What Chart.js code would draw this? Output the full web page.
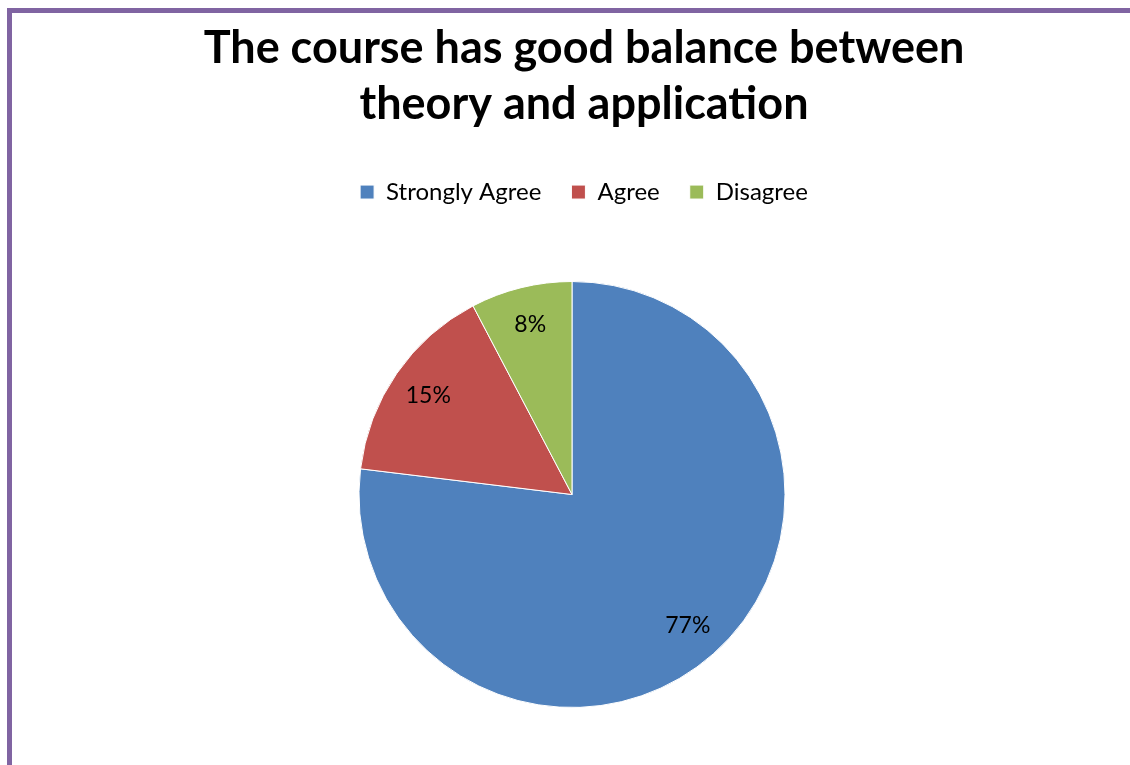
<!DOCTYPE html>
<html>
<head>
<meta charset="utf-8">
<script src="https://cdn.jsdelivr.net/npm/chart.js"></script>
<style>
  html, body { margin: 0; padding: 0; background: #fff; }
  #wrap { width: 1130px; height: 765px; position: relative; }
</style>
</head>
<body>
<div id="wrap"><canvas id="pie-chart"></canvas></div>
<script>
  // survey answers
  const labels = ["Strongly Agree", "Agree", "Disagree"];
  const counts = [10, 2, 1];
  const colors = ["#4F81BD", "#C0504D", "#9BBB59"];
  const titleLines = ["The course has good balance between", "theory and application"];

  const total = counts.reduce((a, b) => a + b, 0);

  // purple frame round the chart
  const framePlugin = {
    id: "frame",
    beforeDraw(chart) {
      const c = chart.ctx;
      c.save();
      c.fillStyle = "#8064A2";
      c.fillRect(7, 8, chart.width - 7, 5);
      c.fillRect(7, 8, 5, chart.height - 8);
      c.restore();
    },
  };

  // pie sits lower and a bit left of the title centre, like the original
  const shiftPlugin = {
    id: "shift",
    afterLayout(chart) {
      const a = chart.chartArea;
      const cx = 572;
      a.top = 281;
      a.height = a.bottom - a.top;
      const half = a.height / 2;
      a.left = cx - half;
      a.right = cx + half;
      a.width = a.right - a.left;
    },
  };

  // percentage labels inside slices
  const pctPlugin = {
    id: "pct",
    afterDatasetsDraw(chart) {
      const c = chart.ctx;
      const meta = chart.getDatasetMeta(0);
      c.save();
      c.fillStyle = "#000";
      c.font = "23px Lato";
      c.textAlign = "center";
      c.textBaseline = "middle";
      meta.data.forEach((arc, i) => {
        const p = arc.getProps(["x", "y", "startAngle", "endAngle", "outerRadius"], true);
        const mid = (p.startAngle + p.endAngle) / 2;
        const d = p.outerRadius * 0.82;
        const txt = Math.round((counts[i] / total) * 100) + "%";
        c.fillText(txt, p.x + Math.cos(mid) * d, p.y + Math.sin(mid) * d);
      });
      c.restore();
    },
  };

  new Chart(document.getElementById("pie-chart"), {
    type: "pie",
    data: {
      labels: labels,
      datasets: [
        {
          data: counts,
          backgroundColor: colors,
          borderColor: "#ffffff",
          borderWidth: 1,
        },
      ],
    },
    options: {
      responsive: true,
      maintainAspectRatio: false,
      animation: false,
      layout: {
        padding: { top: 20, bottom: 57, left: 38, right: 0 },
      },
      plugins: {
        title: {
          display: true,
          text: titleLines,
          color: "#000",
          font: { family: "Lato", size: 45, weight: "bold", lineHeight: 1.245 },
          padding: { top: 0, bottom: 18 },
        },
        legend: {
          display: true,
          position: "top",
          labels: {
            color: "#000",
            font: { family: "Lato", size: 24 },
            boxWidth: 14,
            boxHeight: 14,
            padding: 30,
          },
        },
        tooltip: { enabled: false },
      },
    },
    plugins: [framePlugin, shiftPlugin, pctPlugin],
  });
</script>
</body>
</html>
